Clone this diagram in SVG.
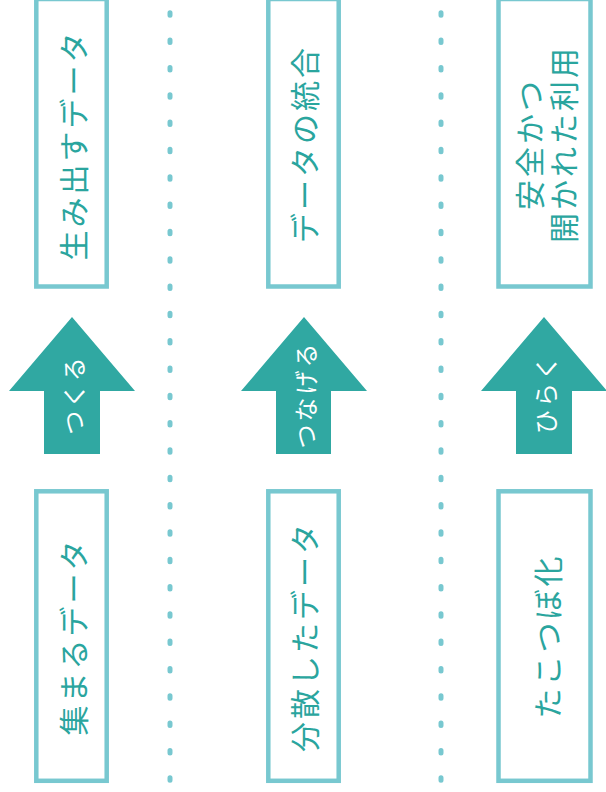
<svg xmlns="http://www.w3.org/2000/svg" width="606" height="792" viewBox="0 0 606 792">
<style>
.box{fill:#ffffff;stroke:#78c8d0;stroke-width:4.5}
.lbl{font-family:"Noto Sans CJK JP","Noto Sans",sans-serif;font-size:30px;letter-spacing:3px;fill:#2aa59e;text-anchor:middle;dominant-baseline:central}
.arrow{fill:#30a8a2}
.alb{font-family:"Noto Sans CJK JP","Noto Sans",sans-serif;font-size:24px;letter-spacing:3px;fill:#ffffff;text-anchor:middle;dominant-baseline:central}
.dots{fill:none;stroke:#78c8d0;stroke-width:5;stroke-linecap:round;stroke-dasharray:2.5 24.82}
</style>
<rect width="606" height="792" fill="#ffffff"/>
<g id="separators">
<path class="dots" d="M170 12.75V792"/>
<path class="dots" d="M441 12.75V792"/>
</g>
<g id="box-umidasu">
<rect class="box" x="36.3" y="-1" width="70.4" height="287.5"/>
<text class="lbl" transform="translate(71.5 145) rotate(-90)">生み出すデータ</text>
</g>
<g id="box-tougou">
<rect class="box" x="268.3" y="-1" width="70.4" height="287.5"/>
<text class="lbl" transform="translate(303 144) rotate(-90)">データの統合</text>
</g>
<g id="box-anzen">
<rect class="box" x="498.5" y="-1" width="92" height="287.5"/>
<text class="lbl" transform="translate(545 144) rotate(-90)"><tspan x="0" y="-17">安全かつ</tspan><tspan x="0" y="17">開かれた利用</tspan></text>
</g>
<g id="box-atsumaru">
<rect class="box" x="36.3" y="491.3" width="70.4" height="289.5"/>
<text class="lbl" transform="translate(71.5 636.5) rotate(-90)">集まるデータ</text>
</g>
<g id="box-bunsan">
<rect class="box" x="268.3" y="491.3" width="70.4" height="289.5"/>
<text class="lbl" transform="translate(303 636.5) rotate(-90)">分散したデータ</text>
</g>
<g id="box-takotsubo">
<rect class="box" x="498.5" y="491.3" width="92" height="289.5"/>
<text class="lbl" transform="translate(546 636) rotate(-90)">たこつぼ化</text>
</g>
<g id="connectors">
<g id="arrow-tsukuru">
<path class="arrow" d="M72 317L135 391H100V454H44V391H9Z"/>
<text class="alb" transform="translate(72 394.5) rotate(-90)">つくる</text>
</g>
<g id="arrow-tsunageru">
<path class="arrow" d="M304 317L367 391H331V454H276V391H241Z"/>
<text class="alb" transform="translate(304 394.5) rotate(-90)">つなげる</text>
</g>
<g id="arrow-hiraku">
<path class="arrow" d="M544 317L607 391H572V454H516V391H481Z"/>
<text class="alb" transform="translate(544 393.5) rotate(-90)">ひらく</text>
</g>
</g>
</svg>
